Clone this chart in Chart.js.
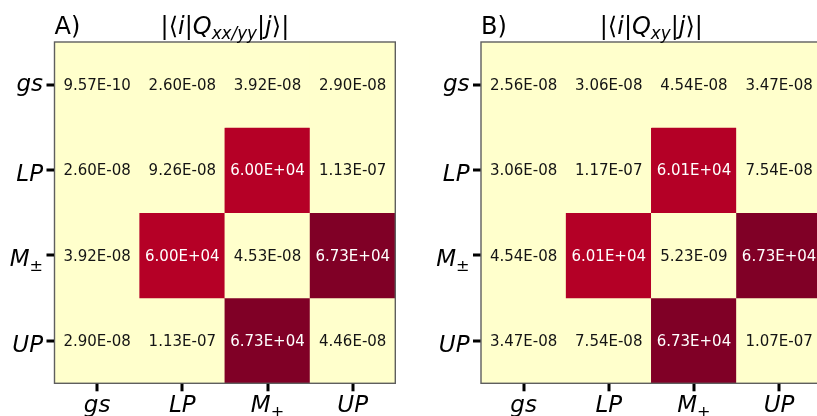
<!DOCTYPE html>
<html>
<head>
<meta charset="utf-8">
<script src="https://cdn.jsdelivr.net/npm/chart.js@4/dist/chart.umd.min.js"></script>
<style>
  html, body { margin: 0; padding: 0; background: #fff; overflow: hidden; }
  #wrap { position: relative; width: 817px; height: 416px; overflow: hidden; }
  canvas { position: absolute; top: 0; }
</style>
</head>
<body>
<div id="wrap">
  <canvas id="qa" width="420" height="416" style="left:0"></canvas>
  <canvas id="qb" width="420" height="416" style="left:420px"></canvas>
</div>
<script>
// State labels (rows = <i|, columns = |j>)
const rowLabels = ['gs', 'LP', 'M±', 'UP'];
const colLabels = ['gs', 'LP', 'M+', 'UP'];

// |<i|Q_xx/yy|j>| matrix elements, one array per row
const qxxGs = [9.57e-10, 2.60e-8, 3.92e-8, 2.90e-8];
const qxxLP = [2.60e-8, 9.26e-8, 6.00e4, 1.13e-7];
const qxxM  = [3.92e-8, 6.00e4, 4.53e-8, 6.73e4];
const qxxUP = [2.90e-8, 1.13e-7, 6.73e4, 4.46e-8];

// |<i|Q_xy|j>| matrix elements, one array per row
const qxyGs = [2.56e-8, 3.06e-8, 4.54e-8, 3.47e-8];
const qxyLP = [3.06e-8, 1.17e-7, 6.01e4, 7.54e-8];
const qxyM  = [4.54e-8, 6.01e4, 5.23e-9, 6.73e4];
const qxyUP = [3.47e-8, 7.54e-8, 6.73e4, 1.07e-7];

const FONT = '"DejaVu Sans", sans-serif';

// YlOrRd colour map
const ylOrRd = ['#ffffcc','#ffeda0','#fed976','#feb24c','#fd8d3c','#fc4e2a','#e31a1c','#bd0026','#800026'];
function hexRgb(h) { return [1,3,5].map(i => parseInt(h.substr(i, 2), 16)); }
function cmap(t) {
  t = Math.max(0, Math.min(1, t));
  const p = t * (ylOrRd.length - 1);
  const i = Math.min(Math.floor(p), ylOrRd.length - 2);
  const f = p - i;
  const a = hexRgb(ylOrRd[i]), b = hexRgb(ylOrRd[i + 1]);
  const c = a.map((v, k) => Math.round(v + (b[k] - v) * f));
  return `rgb(${c[0]},${c[1]},${c[2]})`;
}

// 6.00e+4 -> "6.00E+04"
function sci(v) {
  const [m, e] = v.toExponential(2).split('e');
  const n = parseInt(e, 10);
  return m + 'E' + (n < 0 ? '-' : '+') + String(Math.abs(n)).padStart(2, '0');
}

// Draw a run of text pieces with mixed italic / subscript styles
function richParts(ctx, parts, size) {
  return parts.map(p => {
    const s = p.sub ? size * 0.7 : size;
    const font = `${p.it ? 'italic ' : ''}${s}px ${FONT}`;
    ctx.font = font;
    const w = ctx.measureText(p.t).width;
    return { t: p.t, font, w, dy: p.sub ? size * 0.2 : 0 };
  });
}
function drawRich(ctx, parts, size, x, y, align) {
  const ps = richParts(ctx, parts, size);
  const total = ps.reduce((s, p) => s + p.w, 0);
  let cx = align === 'center' ? x - total / 2 : align === 'right' ? x - total : x;
  ctx.textAlign = 'left';
  ctx.textBaseline = 'alphabetic';
  for (const p of ps) {
    ctx.font = p.font;
    ctx.fillText(p.t, cx, y + p.dy);
    cx += p.w;
  }
}
function labelParts(lbl) {
  if (lbl.length === 2 && lbl[0] === 'M') return [{ t: 'M', it: 1 }, { t: lbl[1], sub: 1 }];
  return [{ t: lbl, it: 1 }];
}

const heatPlugin = {
  id: 'heat',
  afterDraw(chart, args, opts) {
    const ctx = chart.ctx;
    const area = chart.chartArea;
    ctx.save();
    // cell annotations
    chart.data.datasets.forEach((ds, di) => {
      const meta = chart.getDatasetMeta(di);
      meta.data.forEach((bar, j) => {
        const v = ds.data[j].v;
        const t = v / opts.vmax;
        const cy = (bar.y + bar.base) / 2;
        ctx.font = `15px ${FONT}`;
        ctx.textAlign = 'center';
        ctx.textBaseline = 'alphabetic';
        ctx.fillStyle = t > 0.5 ? '#ffffff' : '#141414';
        ctx.fillText(sci(v), bar.x, cy + 5.5);
      });
    });
    // frame
    ctx.strokeStyle = '#5e5e5e';
    ctx.lineWidth = 1.4;
    ctx.strokeRect(area.left, area.top, area.right - area.left, area.bottom - area.top);

    const xs = chart.scales.x, ys = chart.scales.y;
    // tick marks at cell centres
    ctx.fillStyle = '#000000';
    for (let i = 0; i < rowLabels.length; i++) {
      const py = Math.round(ys.getPixelForValue(i));
      ctx.fillRect(area.left - 8, py - 1.5, 7.5, 3);
    }
    for (let j = 0; j < colLabels.length; j++) {
      const px = Math.round(xs.getPixelForValue(j));
      ctx.fillRect(px - 1.5, area.bottom + 0.5, 3, 7.5);
    }

    // tick labels
    ctx.fillStyle = '#000';
    rowLabels.forEach((lbl, i) => {
      const py = ys.getPixelForValue(i);
      ctx.font = `italic 23px ${FONT}`;
      const m = ctx.measureText(lbl[0] === 'M' ? 'M' : lbl);
      const off = (m.actualBoundingBoxAscent - m.actualBoundingBoxDescent) / 2 + 2.5;
      drawRich(ctx, labelParts(lbl), 23, area.left - 11.5, py + off, 'right');
    });
    colLabels.forEach((lbl, j) => {
      const px = xs.getPixelForValue(j);
      drawRich(ctx, labelParts(lbl), 23, px, area.bottom + 29, 'center');
    });

    // panel letter and title
    ctx.font = `24px ${FONT}`;
    ctx.textAlign = 'left';
    ctx.fillText(opts.letter, area.left, 34);
    drawRich(ctx, opts.title, 24, (area.left + area.right) / 2, 34, 'center');
    ctx.restore();
  }
};

function makeHeatmap(id, rows, letter, title, axisW, padRight) {
  const vmax = Math.max(...rows.flat());
  const datasets = rows.map((vals, r) => ({
    data: vals.map((v, j) => ({ x: colLabels[j], y: [r - 0.5, r + 0.5], v })),
    backgroundColor: ctx => cmap(ctx.raw.v / vmax),
    borderWidth: 0,
    grouped: false,
    barPercentage: 1,
    categoryPercentage: 1
  }));
  return new Chart(document.getElementById(id), {
    type: 'bar',
    data: { labels: colLabels, datasets },
    options: {
      responsive: false,
      animation: false,
      devicePixelRatio: 1,
      layout: { padding: { left: 0, right: padRight, top: 42, bottom: 0 } },
      plugins: {
        legend: { display: false },
        tooltip: { enabled: false },
        heat: { vmax, letter, title }
      },
      scales: {
        x: {
          type: 'category',
          offset: true,
          grid: { display: false },
          border: { display: false },
          ticks: { display: false },
          afterFit: s => { s.height = 32.7; }
        },
        y: {
          type: 'linear',
          min: -0.5,
          max: 3.5,
          reverse: true,
          afterBuildTicks: s => { s.ticks = [0, 1, 2, 3].map(v => ({ value: v })); },
          grid: { display: false },
          border: { display: false },
          ticks: { display: false },
          afterFit: s => { s.width = axisW; }
        }
      }
    },
    plugins: [heatPlugin]
  });
}

const titleA = [{ t: '|⟨' }, { t: 'i', it: 1 }, { t: '|' }, { t: 'Q', it: 1 }, { t: 'xx/yy', it: 1, sub: 1 }, { t: '|' }, { t: 'j', it: 1 }, { t: '⟩|' }];
const titleB = [{ t: '|⟨' }, { t: 'i', it: 1 }, { t: '|' }, { t: 'Q', it: 1 }, { t: 'xy', it: 1, sub: 1 }, { t: '|' }, { t: 'j', it: 1 }, { t: '⟩|' }];

makeHeatmap('qa', [qxxGs, qxxLP, qxxM, qxxUP], 'A)', titleA, 54.5, 24.7);
makeHeatmap('qb', [qxyGs, qxyLP, qxyM, qxyUP], 'B)', titleB, 61, 18.3);
</script>
</body>
</html>
